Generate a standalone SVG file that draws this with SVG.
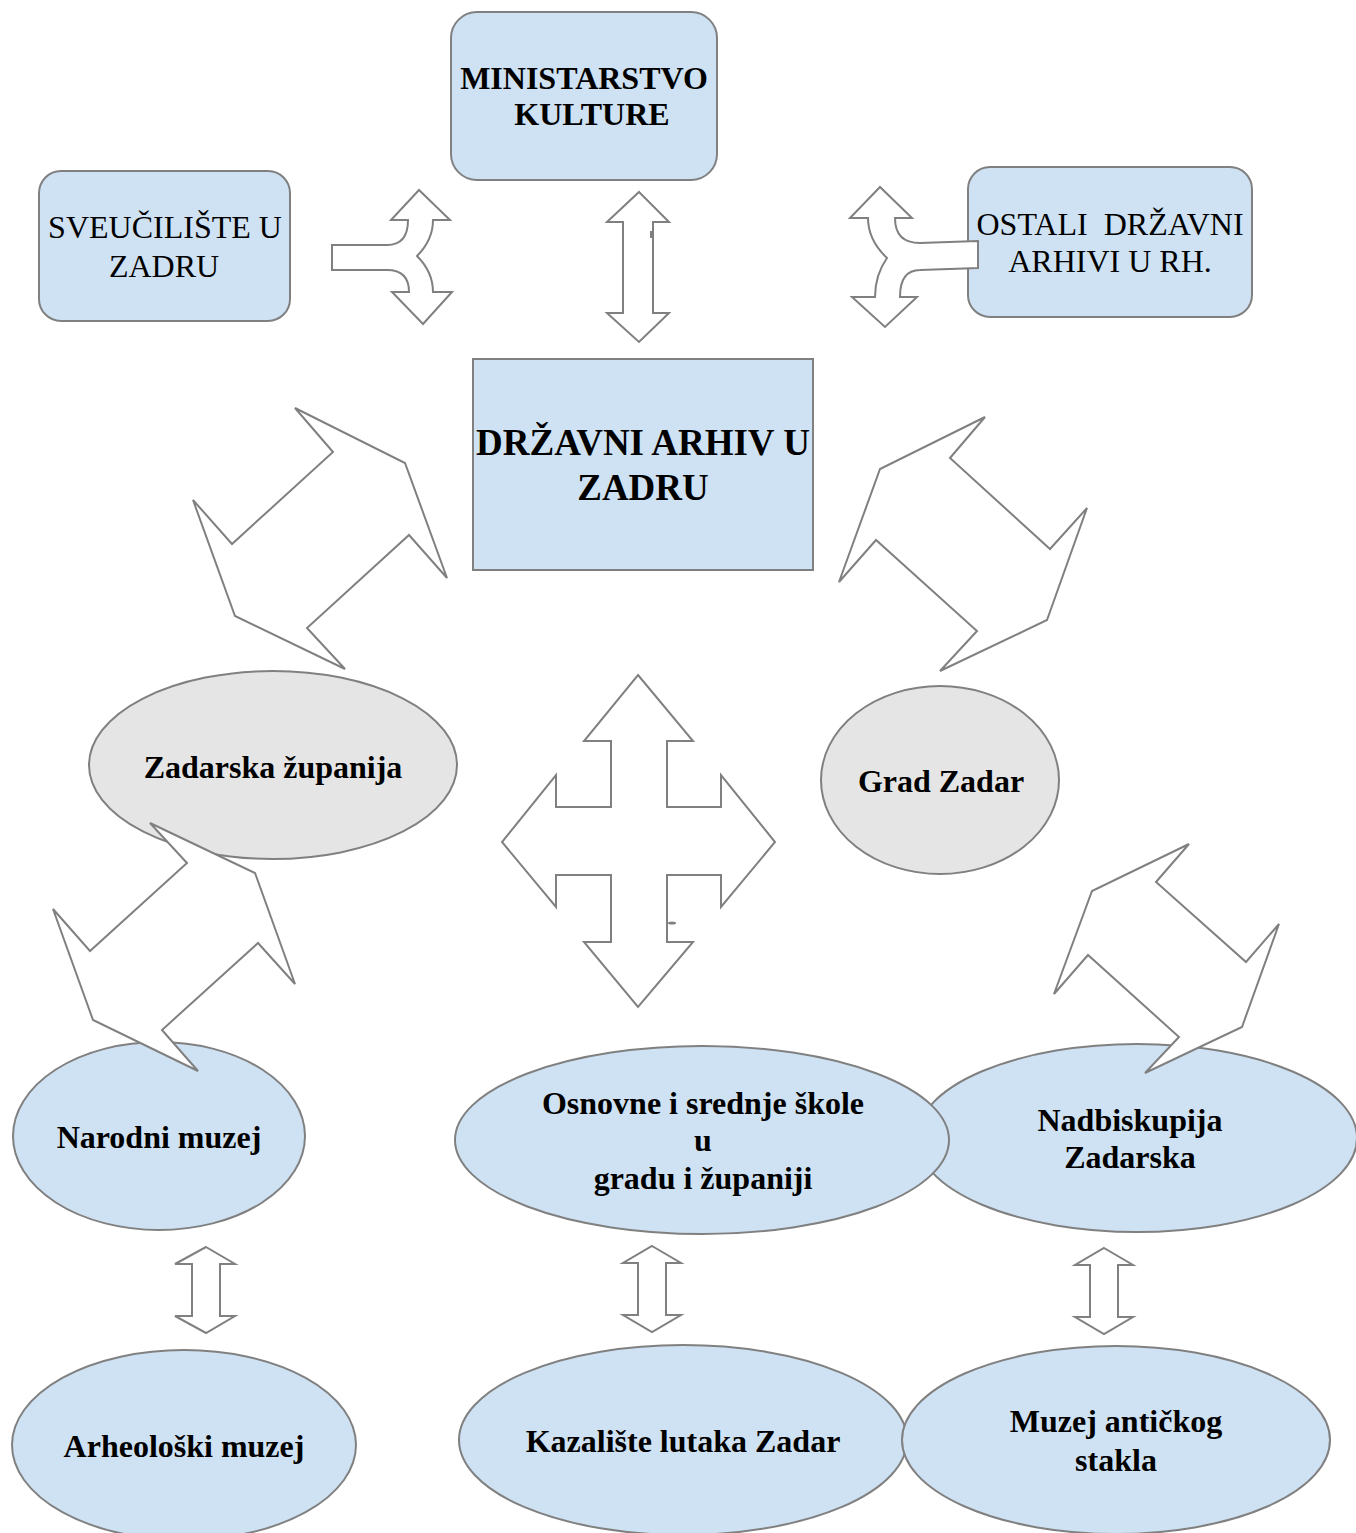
<svg xmlns="http://www.w3.org/2000/svg" width="1356" height="1533" viewBox="0 0 1356 1533">
<style>
.n{fill:#cfe2f3;stroke:#808080;stroke-width:2}
.g{fill:#e5e5e5;stroke:#808080;stroke-width:2}
.a{fill:#ffffff;stroke:#808080;stroke-width:2;stroke-linejoin:miter}
text{font-family:'Liberation Serif','Times New Roman',Tinos,'DejaVu Serif',serif;fill:#000;text-anchor:middle}
.t{font-size:32px}
.b{font-size:32px;font-weight:bold}
.h{font-size:32px;font-weight:bold}
.H{font-size:37px;font-weight:bold}
</style>
<rect width="1356" height="1533" fill="#ffffff"/>
<g id="node-ministarstvo">
<rect class="n" x="451" y="12" width="266" height="168" rx="26"/>
<text class="h" x="584" y="89">MINISTARSTVO</text>
<text class="h" x="592" y="125">KULTURE</text>
</g>
<g id="node-sveuciliste">
<rect class="n" x="39" y="171" width="251" height="150" rx="22"/>
<text class="t" x="165" y="238">SVEUČILIŠTE U</text>
<text class="t" x="164" y="277">ZADRU</text>
</g>
<g id="node-ostali">
<rect class="n" x="968" y="167" width="284" height="150" rx="22"/>
<text class="t" x="1110" y="235" xml:space="preserve">OSTALI  DRŽAVNI</text>
<text class="t" x="1110" y="272">ARHIVI U RH.</text>
</g>
<g id="node-dazd">
<rect class="n" x="473" y="359" width="340" height="211"/>
<text class="H" x="643" y="455">DRŽAVNI ARHIV U</text>
<text class="H" x="643" y="500">ZADRU</text>
</g>
<g id="node-zupanija">
<ellipse class="g" cx="273" cy="765" rx="184" ry="94"/>
<text class="b" x="273" y="778">Zadarska županija</text>
</g>
<g id="node-grad">
<ellipse class="g" cx="940" cy="780" rx="119" ry="94"/>
<text class="b" x="941" y="792">Grad Zadar</text>
</g>
<g id="node-nadbiskupija">
<ellipse class="n" cx="1137" cy="1138" rx="220" ry="94"/>
<text class="b" x="1130" y="1131">Nadbiskupija</text>
<text class="b" x="1130" y="1168">Zadarska</text>
</g>
<g id="node-skole">
<ellipse class="n" cx="702" cy="1140" rx="247" ry="94"/>
<text class="b" x="703" y="1114">Osnovne i srednje škole</text>
<text class="b" x="703" y="1151">u</text>
<text class="b" x="703" y="1189">gradu i županiji</text>
</g>
<g id="node-narodni">
<ellipse class="n" cx="159" cy="1136" rx="146" ry="94"/>
<text class="b" x="159" y="1148">Narodni muzej</text>
</g>
<g id="node-arheoloski">
<ellipse class="n" cx="184" cy="1445" rx="172" ry="95"/>
<text class="b" x="184" y="1457">Arheološki muzej</text>
</g>
<g id="node-kazaliste">
<ellipse class="n" cx="683" cy="1440" rx="224" ry="95"/>
<text class="b" x="683" y="1452">Kazalište lutaka Zadar</text>
</g>
<g id="node-staklo">
<ellipse class="n" cx="1116" cy="1440" rx="214" ry="94"/>
<text class="b" x="1116" y="1432">Muzej antičkog</text>
<text class="b" x="1116" y="1471">stakla</text>
</g>
<g id="connectors">
<path class="a" d="M332,245 L387,245 Q408,245 408,220 L391,220 L419,190 L450,220 L433,220 Q433,240 417,256 Q433,272 433,292 L452,292 L423,324 L392,292 L409,292 Q409,270 387,270 L332,270 Z"/>
<path class="a" d="M978,241 L920,243 Q895,243 895,218 L912,218 L880,187 L850,218 L868,218 Q868,240 887,258 Q875,275 875,297 L852,297 L885,327 L917,297 L900,297 Q900,270 920,270 L978,268 Z"/>
<path class="a" d="M639,192 L669,222 L653,222 L653,313 L669,313 L639,342 L607,313 L623,313 L623,222 L607,222 Z"/>
<rect x="650" y="231" width="2" height="7" fill="#808080"/>
<path class="a" d="M295,408 L333,452 L232,544 L193,500 L235,616 L345,669 L307,628 L409,535 L447,578 L405,463 Z"/>
<path class="a" d="M985,417 L950,458 L1050,549 L1087,508 L1047,620 L940,671 L977,631 L876,540 L839,582 L880,469 Z"/>
<path class="a" d="M638,675 L693,741 L667,741 L667,807 L721,807 L721,775 L775,842 L721,907 L721,875 L667,875 L667,942 L693,942 L638,1007 L584,942 L611,942 L611,875 L556,875 L556,907 L502,842 L556,775 L556,807 L611,807 L611,741 L584,741 Z"/>
<ellipse cx="672" cy="923" rx="4" ry="1.5" fill="#808080"/>
<path class="a" d="M150,823 L187,863 L90,951 L53,909 L93,1020 L198,1071 L162,1030 L258,943 L295,984 L255,873 Z"/>
<path class="a" d="M1189,844 L1156,882 L1246,962 L1279,924 L1242,1027 L1145,1073 L1179,1037 L1088,955 L1054,994 L1092,891 Z"/>
<path class="a" d="M206,1247 L235,1264 L220,1264 L220,1316 L235,1316 L206,1333 L175,1316 L192,1316 L192,1264 L175,1264 Z"/>
<path class="a" d="M652,1246 L681,1263 L666,1263 L666,1315 L681,1315 L652,1332 L623,1315 L638,1315 L638,1263 L623,1263 Z"/>
<path class="a" d="M1104,1248 L1133,1265 L1118,1265 L1118,1317 L1133,1317 L1104,1334 L1075,1317 L1090,1317 L1090,1265 L1075,1265 Z"/>
</g>
</svg>
